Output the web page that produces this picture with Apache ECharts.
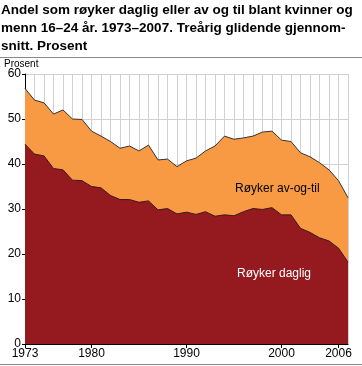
<!DOCTYPE html>
<html>
<head>
<meta charset="utf-8">
<script src="https://cdn.jsdelivr.net/npm/echarts@6/dist/echarts.min.js"></script>
<style>html,body{margin:0;padding:0;background:#fff}#c{width:362px;height:366px}</style>
</head>
<body>
<div id="c"></div>
<script>
const years = ['1973','1974','1975','1976','1977','1978','1979','1980','1981','1982','1983','1984','1985','1986','1987','1988','1989','1990','1991','1992','1993','1994','1995','1996','1997','1998','1999','2000','2001','2002','2003','2004','2005','2006','2007'];
const roykerDaglig = [44.4,42.2,41.8,39.0,38.7,36.4,36.3,35.0,34.7,33.0,32.1,32.1,31.5,31.8,29.8,30.1,28.9,29.3,28.8,29.4,28.4,28.7,28.5,29.4,30.1,29.9,30.3,28.7,28.7,25.7,24.8,23.6,22.9,21.3,18.2];
const roykerAvOgTil = [12.4,12.0,11.8,12.1,13.3,13.6,13.6,12.3,11.5,12.0,11.4,11.9,11.4,12.4,11.1,11.0,10.5,11.4,12.5,13.5,15.6,17.5,17.0,16.4,16.1,17.2,17.0,16.6,16.3,16.8,16.8,16.7,15.8,15.0,14.3];
const xTickLabels = ['1973','1980','1990','2000','2006'];
const yTicks = {min: 0, max: 60, interval: 10};
const titleText = 'Andel som røyker daglig eller av og til blant kvinner og\nmenn 16–24 år. 1973–2007. Treårig glidende gjennom-\nsnitt. Prosent';

const FONT = '"Liberation Sans", Arial, sans-serif';
const chart = echarts.init(document.getElementById('c'), null, {renderer: 'canvas'});
chart.setOption({
  animation: false,
  textStyle: {fontFamily: FONT},
  title: {
    text: titleText, left: 1, top: 1, padding: 0,
    textStyle: {fontSize: 13.5, fontWeight: 'bold', color: '#000', lineHeight: 18, fontFamily: FONT}
  },
  graphic: [
    {type: 'line', z: 100, shape: {x1: 0, y1: 57.5, x2: 362, y2: 57.5}, style: {stroke: '#888', lineWidth: 1}},
    {type: 'line', z: 100, shape: {x1: 0, y1: 364.5, x2: 362, y2: 364.5}, style: {stroke: '#888', lineWidth: 1}},
    {type: 'text', z: 100, left: 4, top: 59, style: {text: 'Prosent', fontSize: 10, fill: '#000', fontFamily: FONT}},
    {type: 'text', z: 100, left: 235, top: 183, style: {text: 'Røyker av-og-til', fontSize: 12, fill: '#000', fontFamily: FONT}},
    {type: 'text', z: 100, left: 237, top: 268, style: {text: 'Røyker daglig', fontSize: 12, fill: '#fff', fontFamily: FONT}}
  ],
  grid: {left: 25, right: 14, top: 74, bottom: 22, containLabel: false},
  xAxis: {
    type: 'category', data: years, boundaryGap: false,
    axisLine: {show: true, lineStyle: {color: '#000', width: 1}},
    axisTick: {show: true, length: 4, lineStyle: {color: '#000'}, interval: (i, v) => xTickLabels.includes(v)},
    axisLabel: {interval: (i, v) => xTickLabels.includes(v), color: '#000', fontSize: 12, margin: 4, fontFamily: FONT},
    splitLine: {show: true, interval: 0, lineStyle: {color: '#d0d0d0', width: 1}}
  },
  yAxis: {
    type: 'value', min: yTicks.min, max: yTicks.max, interval: yTicks.interval,
    axisLine: {show: true, lineStyle: {color: '#000', width: 1}},
    axisTick: {show: true, length: 3, lineStyle: {color: '#000'}},
    axisLabel: {color: '#000', fontSize: 12, margin: 4, fontFamily: FONT},
    splitLine: {show: true, lineStyle: {color: '#d0d0d0', width: 1}}
  },
  series: [
    {
      name: 'Røyker daglig', type: 'line', stack: 'total', data: roykerDaglig,
      symbol: 'none', lineStyle: {color: '#3b1510', width: 1},
      areaStyle: {color: '#941a1f', opacity: 1}, z: 3
    },
    {
      name: 'Røyker av-og-til', type: 'line', stack: 'total', data: roykerAvOgTil,
      symbol: 'none', lineStyle: {color: '#333', width: 1},
      areaStyle: {color: '#f79a43', opacity: 1}, z: 2
    }
  ]
});
</script>
</body>
</html>
